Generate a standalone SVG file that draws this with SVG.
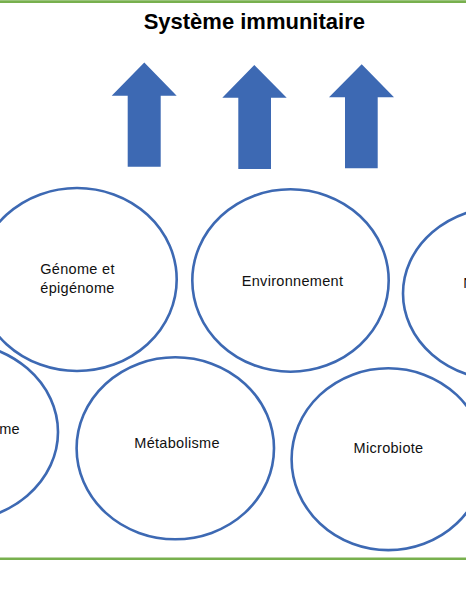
<svg xmlns="http://www.w3.org/2000/svg" width="466" height="600" viewBox="0 0 466 600">
<style>
.rule{stroke:#78B04E;stroke-width:2.6;fill:none}
.arrow{fill:#3D69B3}
.node ellipse{fill:#FFFFFF;stroke:#3D69B3;stroke-width:2.6}
.lbl{font-family:"Liberation Sans",Arial,sans-serif;font-size:14.5px;fill:#111111;letter-spacing:0.3px}
.title{font-family:"Liberation Sans",Arial,sans-serif;font-size:22px;font-weight:bold;fill:#000000}
</style>
<rect x="0" y="0" width="466" height="600" fill="#FFFFFF"/>
<line class="rule" x1="0" y1="1.6" x2="466" y2="1.6"/>
<line class="rule" x1="0" y1="558.7" x2="466" y2="558.7"/>
<text class="title" x="254.3" y="29.3" text-anchor="middle">Système immunitaire</text>
<g id="connectors">
<polygon class="arrow" points="144.3,62.5 176.7,95.7 160.7,95.7 160.7,166.7 127.7,166.7 127.7,95.7 111.7,95.7"/>
<polygon class="arrow" points="254.3,65 286.7,97.7 271,97.7 271,169 238.3,169 238.3,97.7 222.3,97.7"/>
<polygon class="arrow" points="361.7,64.3 394,97.3 377.7,97.3 377.7,168.3 345,168.3 345,97.3 329,97.3"/>
</g>
<g id="node-exposome" class="node">
<ellipse cx="-47" cy="432" rx="105" ry="90"/>
<text class="lbl" x="20" y="433.5" text-anchor="end">Exposome</text>
</g>
<g id="node-genome" class="node">
<ellipse cx="77" cy="279.5" rx="99.7" ry="91.5"/>
<text class="lbl" x="77.5" y="273.5" text-anchor="middle">Génome et</text>
<text class="lbl" x="77.5" y="292.5" text-anchor="middle">épigénome</text>
</g>
<g id="node-environnement" class="node">
<ellipse cx="290.5" cy="280.5" rx="98.2" ry="91.2"/>
<text class="lbl" x="292.5" y="286.3" text-anchor="middle">Environnement</text>
</g>
<g id="node-nutrition" class="node">
<ellipse cx="503" cy="293.5" rx="100" ry="86.5"/>
<text class="lbl" x="463.3" y="288.3">Nutrition</text>
</g>
<g id="node-metabolisme" class="node">
<ellipse cx="175.3" cy="448.3" rx="98.7" ry="91"/>
<text class="lbl" x="177" y="448.3" text-anchor="middle">Métabolisme</text>
</g>
<g id="node-microbiote" class="node">
<ellipse cx="388.3" cy="459.2" rx="96.7" ry="90.9"/>
<text class="lbl" x="388.5" y="453.3" text-anchor="middle">Microbiote</text>
</g>
</svg>
